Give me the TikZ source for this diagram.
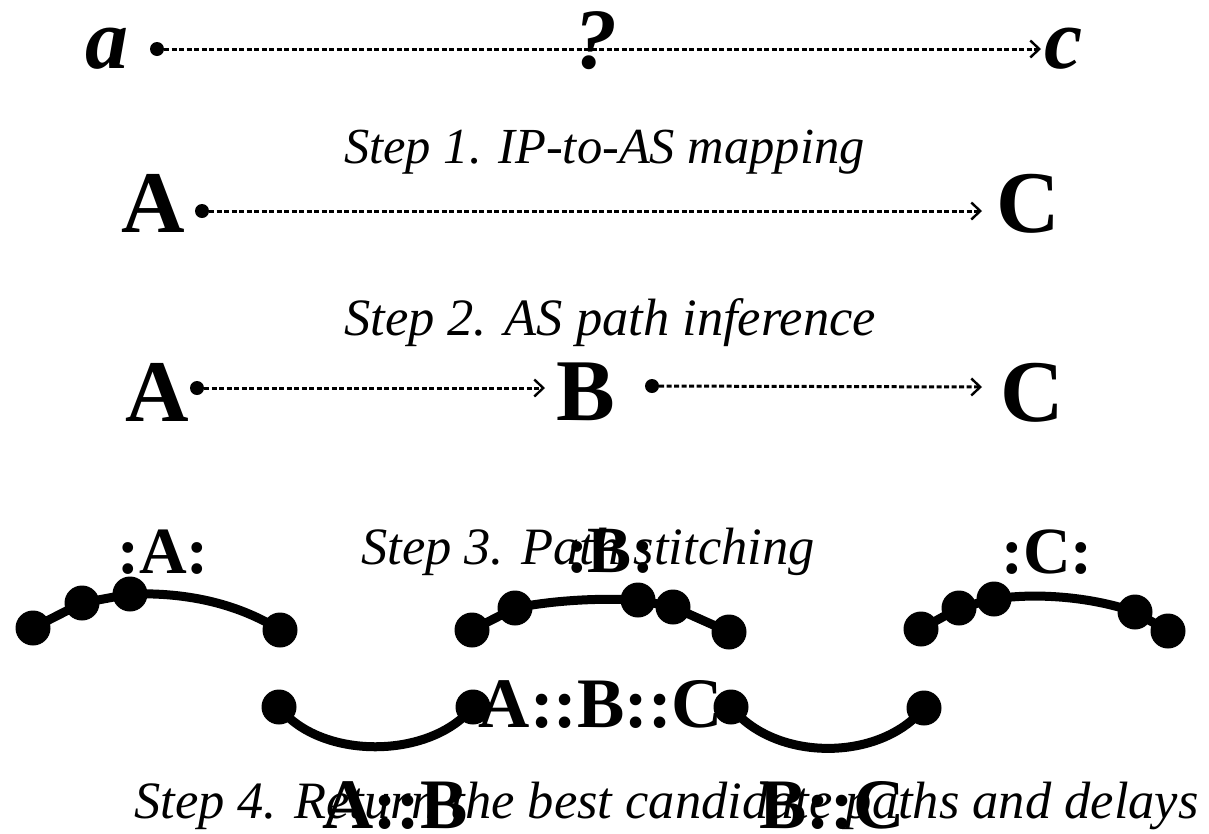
\documentclass[tikz,border=0pt]{standalone}
\usepackage{fontspec}
\setmainfont{Liberation Serif}
\usetikzlibrary{arrows.meta}
\tikzset{
  big/.style={font=\fontsize{88}{88}\selectfont\bfseries, inner sep=0pt, anchor=base},
  bigit/.style={font=\fontsize{86}{86}\selectfont\bfseries\itshape, inner sep=0pt, anchor=base},
  steptext/.style={font=\fontsize{52.5}{52.5}\selectfont\itshape, inner sep=0pt, anchor=base west},
  colontext/.style={font=\fontsize{66}{66}\selectfont\bfseries, inner sep=0pt, anchor=base},
  pathtext/.style={font=\fontsize{71}{71}\selectfont\bfseries, inner sep=0pt, anchor=base},
  smalldot/.style={circle, fill=black, inner sep=0pt, minimum size=14pt},
  bigdot/.style={circle, fill=black, inner sep=0pt, minimum size=35pt},
  dasharrow/.style={line width=3pt, dash pattern=on 5pt off 2.5pt, -{Straight Barb[length=9pt,width=17pt,line width=2.4pt]}},
  arcline/.style={line width=9pt},
}
\begin{document}
\begin{tikzpicture}[x=1pt,y=-1pt]
\useasboundingbox (0,0) rectangle (1209,833);
% Row 1
\node[bigit] (la) at (107,68) {a};
\node[smalldot] (d1) at (157,49) {};
\coordinate (t1) at (1041,49);
\draw[dasharrow] (d1) -- (t1);
\node[bigit] (q) at (596,68) {?};
\node[bigit] (lc) at (1064,68) {c};
% Step 1
\node[steptext, font=\fontsize{50.5}{50.5}\selectfont\itshape] (s1) at (344,163) {Step 1. IP-to-AS mapping};
% Row 2
\node[big] (A2) at (153,232) {A};
\node[smalldot] (d2) at (202,211) {};
\coordinate (t2) at (982,211);
\draw[dasharrow] (d2) -- (t2);
\node[big] (C2) at (1028,232) {C};
% Step 2
\node[steptext] (s2) at (344,335) {Step 2. AS path inference};
% Row 3
\node[big] (A3) at (157,421) {A};
\node[smalldot] (d3) at (197,388) {};
\coordinate (t3) at (545,388);
\draw[dasharrow] (d3) -- (t3);
\node[big] (B3) at (586,420) {B};
\node[smalldot] (d4) at (652,386) {};
\coordinate (t4) at (982,387);
\draw[dasharrow] (d4) -- (t4);
\node[big] (C3) at (1032,421) {C};
% Step 3
\node[steptext] (s3) at (361,564) {Step 3. Path stitching};
\node[colontext] (cA) at (163,573) {:A:};
\node[colontext] (cB) at (610,572) {:B:};
\node[colontext] (cC) at (1047,573) {:C:};
% Arc A
\node[bigdot] (a1) at (33,628) {};
\node[bigdot] (a2) at (82,603) {};
\node[bigdot] (a3) at (130,594) {};
\node[bigdot] (a4) at (280,630) {};
\draw[arcline] (a1.center) -- (a2.center) -- (a3.center) .. controls (190,592) and (240,605) .. (a4.center);
% Arc B
\node[bigdot] (b1) at (472,630) {};
\node[bigdot] (b2) at (515,608) {};
\node[bigdot] (b3) at (638,600) {};
\node[bigdot] (b4) at (673,607) {};
\node[bigdot] (b5) at (729,632) {};
\draw[arcline] (b1.center) -- (b2.center) .. controls (555,600) and (600,598) .. (b3.center) -- (b4.center) -- (b5.center);
% Arc C
\node[bigdot] (c1) at (921,629) {};
\node[bigdot] (c2) at (959,608) {};
\node[bigdot] (c3) at (994,599) {};
\node[bigdot] (c4) at (1135,612) {};
\node[bigdot] (c5) at (1168,631) {};
\draw[arcline] (c1.center) -- (c2.center) -- (c3.center) .. controls (1040,592) and (1095,598) .. (c4.center) -- (c5.center);
% Lower arcs
\node[pathtext] (abc) at (601,727) {A::B::C};
\node[bigdot] (e1) at (279,707) {};
\node[bigdot] (e2) at (473,707) {};
\draw[arcline] (e1.center) .. controls (320,760) and (430,760) .. (e2.center);
\node[bigdot] (f1) at (731,707) {};
\node[bigdot] (f2) at (924,708) {};
\draw[arcline] (f1.center) .. controls (775,762) and (880,762) .. (f2.center);
% Step 4
\node[steptext] (s4) at (134,818) {Step 4. Return the best candidate paths and delays};
\node[pathtext] (ab) at (395,828) {A::B};
\node[pathtext] (bc) at (832,828) {B::C};
\end{tikzpicture}
\end{document}
